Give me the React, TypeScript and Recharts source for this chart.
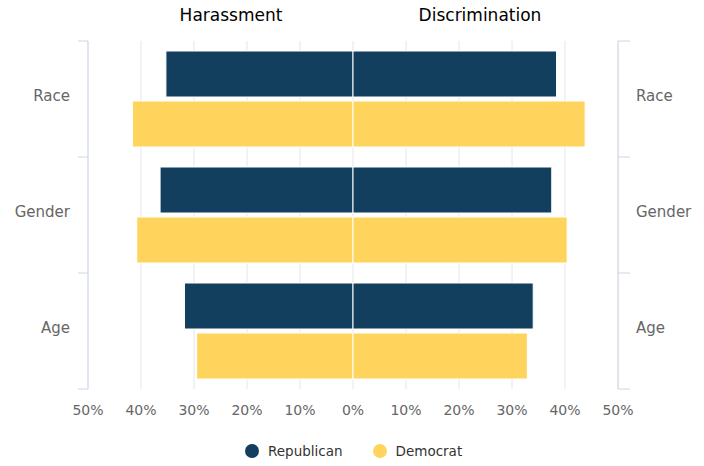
import React from 'react'
import { BarChart, Bar, CartesianGrid, XAxis, YAxis } from 'recharts'

const categories = ['Race', 'Gender', 'Age']
const harassRepublican = [35.3, 36.4, 31.8]
const harassDemocrat = [41.6, 40.8, 29.5]
const discRepublican = [38.4, 37.5, 34.0]
const discDemocrat = [43.8, 40.4, 32.9]
const xTicks = [-50, -40, -30, -20, -10, 0, 10, 20, 30, 40, 50]

const REP = '#123f5e'
const DEM = '#ffd45d'
const AXIS = '#ccd6eb'
const FONT = '"DejaVu Sans", sans-serif'

const W = 704
const H = 466
const TOP = 41
const BOTTOM = 389
const LEFT = 88
const RIGHT = 618
const BAND = (BOTTOM - TOP) / categories.length

const data = categories.map((name, i) => ({
  name,
  harassRep: -harassRepublican[i],
  harassDem: -harassDemocrat[i],
  discRep: discRepublican[i],
  discDem: discDemocrat[i],
}))

const CatTick = ({ y, payload, index, side }: any) => {
  const left = side === 'left'
  const x0 = left ? LEFT - 10 : RIGHT
  const x1 = left ? LEFT : RIGHT + 12
  return (
    <g>
      <line x1={x0} x2={x1} y1={y - BAND / 2} y2={y - BAND / 2} stroke={AXIS} />
      {index === categories.length - 1 && (
        <line x1={x0} x2={x1} y1={y + BAND / 2} y2={y + BAND / 2} stroke={AXIS} />
      )}
      <text
        x={left ? LEFT - 18 : RIGHT + 18}
        y={y - 3}
        textAnchor={left ? 'end' : 'start'}
        dominantBaseline="central"
        fill="#666666"
        fontSize={15}
        fontFamily={FONT}
      >
        {payload.value}
      </text>
    </g>
  )
}

const legendItems = [
  { name: 'Republican', color: REP },
  { name: 'Democrat', color: DEM },
]

export default function App() {
  return (
    <div style={{ position: 'absolute', left: 0, top: 0, width: W, height: H, background: '#fff' }}>
      <div style={{ position: 'absolute', top: 5, left: 231, transform: 'translateX(-50%)', fontFamily: FONT, fontSize: 17, color: '#000' }}>
        Harassment
      </div>
      <div style={{ position: 'absolute', top: 5, left: 480, transform: 'translateX(-50%)', fontFamily: FONT, fontSize: 17, color: '#000' }}>
        Discrimination
      </div>
      <BarChart
        width={W}
        height={H}
        data={data}
        layout="vertical"
        stackOffset="sign"
        barCategoryGap={10}
        barGap={4}
        margin={{ top: TOP, right: 0, left: 0, bottom: 0 }}
      >
        <CartesianGrid horizontal={false} stroke="#e6e6e6" />
        <XAxis
          type="number"
          domain={[-50, 50]}
          ticks={xTicks}
          height={H - BOTTOM}
          axisLine={false}
          tickLine={false}
          tickMargin={10}
          tickFormatter={(v: number) => `${Math.abs(v)}%`}
          tick={{ fill: '#666666', fontSize: 14, fontFamily: FONT }}
        />
        <YAxis
          yAxisId="left"
          type="category"
          dataKey="name"
          width={LEFT}
          axisLine={{ stroke: AXIS }}
          tickLine={false}
          tick={<CatTick side="left" />}
        />
        <YAxis
          yAxisId="right"
          type="category"
          dataKey="name"
          orientation="right"
          width={W - RIGHT}
          axisLine={{ stroke: AXIS }}
          tickLine={false}
          tick={<CatTick side="right" />}
        />
        <Bar yAxisId="left" dataKey="harassRep" stackId="rep" fill={REP} stroke="#fff" strokeWidth={1} isAnimationActive={false} />
        <Bar yAxisId="left" dataKey="discRep" stackId="rep" fill={REP} stroke="#fff" strokeWidth={1} isAnimationActive={false} />
        <Bar yAxisId="left" dataKey="harassDem" stackId="dem" fill={DEM} stroke="#fff" strokeWidth={1} isAnimationActive={false} />
        <Bar yAxisId="left" dataKey="discDem" stackId="dem" fill={DEM} stroke="#fff" strokeWidth={1} isAnimationActive={false} />
      </BarChart>
      <div style={{ position: 'absolute', top: 443, left: 245, display: 'flex', fontFamily: FONT, fontSize: 13.5, color: '#333' }}>
        {legendItems.map((it, i) => (
          <div key={it.name} style={{ display: 'flex', alignItems: 'center', marginLeft: i ? 30 : 0 }}>
            <span style={{ width: 14, height: 14, borderRadius: 7, background: it.color, display: 'inline-block', marginRight: 9 }} />
            {it.name}
          </div>
        ))}
      </div>
    </div>
  )
}
